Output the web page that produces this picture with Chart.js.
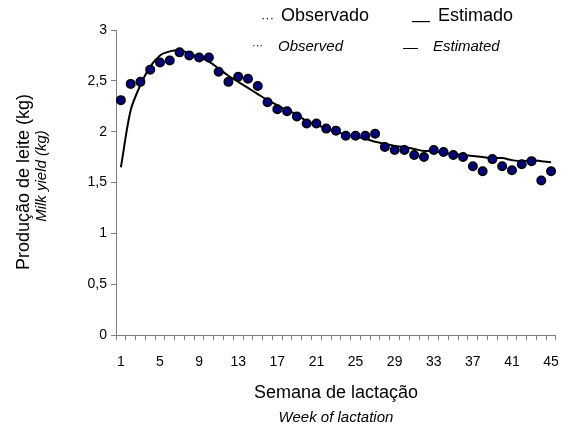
<!DOCTYPE html>
<html><head><meta charset="utf-8">
<script src="https://cdn.jsdelivr.net/npm/chart.js@4/dist/chart.umd.min.js"></script>
<style>html,body{margin:0;padding:0;background:#fff}#wrap{width:573px;height:427px;position:relative}</style>
</head><body><div id="wrap"><canvas id="c" width="573" height="427"></canvas></div>
<script>
const weeks = Array.from({length:45},(_,i)=>String(i+1));
const tickLabels = ['1','5','9','13','17','21','25','29','33','37','41','45'];
const yTicks = ['0','0,5','1','1,5','2','2,5','3'];
const observed = [2.31,2.47,2.49,2.61,2.68,2.70,2.78,2.75,2.73,2.73,
  2.59,2.49,2.54,2.52,2.45,2.29,2.22,2.20,2.15,2.08,
  2.08,2.03,2.01,1.96,1.96,1.96,1.98,1.85,1.82,1.82,
  1.77,1.75,1.82,1.80,1.77,1.75,1.66,1.61,1.73,1.66,
  1.62,1.68,1.71,1.52,1.61];
const estimated = [1.65,2.21,2.46,2.64,2.75,2.79,2.80,2.77,2.73,2.69,
  2.62,2.55,2.49,2.43,2.37,2.31,2.26,2.21,2.17,2.10,
  2.07,2.03,2.00,1.97,1.95,1.93,1.90,1.88,1.86,1.85,
  1.83,1.81,1.81,1.79,1.78,1.77,1.76,1.75,1.74,1.74,
  1.72,1.71,1.72,1.71,1.70];
const legendMarks = ['···','—'];
const legendTop = ['Observado','Estimado'];
const legendBottom = ['Observed','Estimated'];
const xTitle = ['Semana de lactação','Week of lactation'];
const yTitle = ['Produção de leite (kg)','Milk yield (kg)'];

const FONT = '"Liberation Sans", Arial, sans-serif';
const textPlugin = {
  id:'texts',
  afterDraw(chart){
    const ctx = chart.ctx;
    ctx.save();
    ctx.fillStyle = '#000';
    ctx.textBaseline = 'middle';
    ctx.textAlign = 'left';
    ctx.font = '13px ' + FONT;
    ctx.fillText(legendMarks[0], 261, 18);
    ctx.font = '18px ' + FONT;
    ctx.fillText(legendTop[0], 281, 16);
    ctx.fillText(legendMarks[1], 412, 21);
    ctx.fillText(legendTop[1], 438, 16);
    ctx.font = 'italic 11px ' + FONT;
    ctx.fillText(legendMarks[0], 252, 46);
    ctx.font = 'italic 15px ' + FONT;
    ctx.fillText(legendBottom[0], 278, 47);
    ctx.fillText(legendMarks[1], 403, 48);
    ctx.fillText(legendBottom[1], 433, 47);
    ctx.textAlign = 'center';
    const cx = (chart.chartArea.left + chart.chartArea.right)/2;
    ctx.font = '18px ' + FONT;
    ctx.fillText(xTitle[0], cx, 393);
    ctx.font = 'italic 15px ' + FONT;
    ctx.fillText(xTitle[1], cx, 418);
    ctx.restore();

    ctx.save();
    ctx.fillStyle = '#000';
    ctx.textBaseline = 'middle';
    ctx.textAlign = 'center';
    ctx.translate(24, 182);
    ctx.rotate(-Math.PI/2);
    ctx.font = '18px ' + FONT;
    ctx.fillText(yTitle[0], 0, 0);
    ctx.restore();

    ctx.save();
    ctx.fillStyle = '#000';
    ctx.textBaseline = 'middle';
    ctx.textAlign = 'center';
    ctx.translate(42, 176);
    ctx.rotate(-Math.PI/2);
    ctx.font = 'italic 15px ' + FONT;
    ctx.fillText(yTitle[1], 0, 0);
    ctx.restore();
  }
};

new Chart(document.getElementById('c'), {
  type:'line',
  data:{
    labels: weeks,
    datasets:[
      {label:'Estimado', data: estimated, borderColor:'#000', borderWidth:2, pointRadius:0, tension:0.3, fill:false, order:2},
      {label:'Observado', data: observed, showLine:false, pointRadius:4.2, pointBackgroundColor:'#000080', pointBorderColor:'#000', pointBorderWidth:1.6, order:1}
    ]
  },
  options:{
    responsive:false, animation:false, devicePixelRatio:1,
    layout:{padding:{top:30,right:12,bottom:0,left:0}},
    plugins:{legend:{display:false}, tooltip:{enabled:false}},
    scales:{
      x:{
        offset:true,
        grid:{display:true, drawOnChartArea:false, drawTicks:true, tickLength:5, color:'#808080', offset:true},
        border:{color:'#808080', width:1},
        ticks:{autoSkip:false, maxRotation:0, minRotation:0, padding:14, color:'#000', font:{family:FONT,size:14},
          callback:(v,i)=> tickLabels.includes(weeks[i]) ? weeks[i] : ''},
        afterFit(s){ s.height = 92; }
      },
      y:{
        min:0, max:3,
        grid:{display:true, drawOnChartArea:false, drawTicks:true, tickLength:5, color:'#808080'},
        border:{color:'#808080', width:1},
        ticks:{stepSize:0.5, padding:4, color:'#000', font:{family:FONT,size:14},
          callback:(v)=> yTicks[Math.round(v*2)]},
        afterFit(s){ s.width = 116; }
      }
    }
  },
  plugins:[textPlugin]
});
</script></body></html>
